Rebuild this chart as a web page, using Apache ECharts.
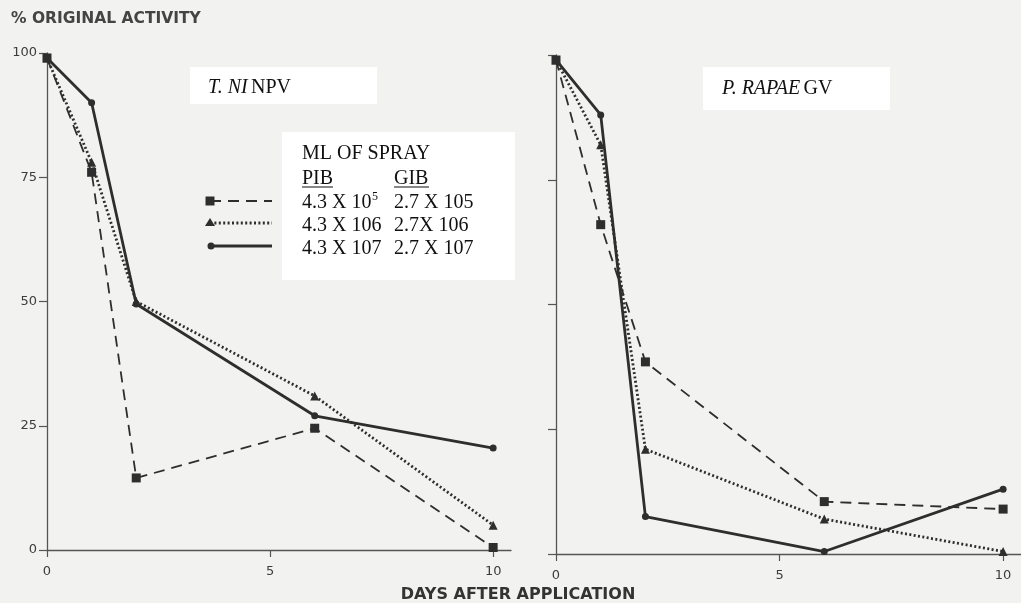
<!DOCTYPE html>
<html><head><meta charset="utf-8">
<script src="https://cdn.jsdelivr.net/npm/echarts@6/dist/echarts.min.js"></script>
<style>html,body{margin:0;padding:0;background:#f2f2f0}#c{width:1021px;height:603px}</style>
</head><body><div id="c"></div>
<script>
// ---- data ----
const days = [0, 1, 2, 6, 10];
const xTicks = [0, 5, 10];
const yTicks = [0, 25, 50, 75, 100];
const seriesNames = ['4.3 X 10^5 / 2.7 X 105', '4.3 X 106 / 2.7X 106', '4.3 X 107 / 2.7 X 107'];
// T. NI NPV panel
const tniLow  = [99, 76, 14.5, 24.5, 0.5];
const tniMid  = [99, 78, 50, 31, 5];
const tniHigh = [99, 90, 49.5, 27, 20.5];
// P. RAPAE GV panel
const praLow  = [99, 66, 38.5, 10.5, 9];
const praMid  = [99, 82, 21, 7, 0.5];
const praHigh = [99, 88, 7.5, 0.5, 13];

const pairs = v => days.map((d, i) => [d, v[i]]);
const INK = '#2e2e2e';
const styles = [
  {symbol: 'rect', symbolSize: 9, lineStyle: {width: 1.8, type: [11, 7]}},
  {symbol: 'triangle', symbolSize: 9, lineStyle: {width: 2.8, type: [2, 2.4]}},
  {symbol: 'circle', symbolSize: 7, lineStyle: {width: 2.8, type: 'solid'}}
];
function mk(name, vals, idx, k) {
  const s = styles[k];
  return {
    name: name, type: 'line', xAxisIndex: idx, yAxisIndex: idx,
    data: pairs(vals), symbol: s.symbol, symbolSize: s.symbolSize, showSymbol: true,
    itemStyle: {color: INK, borderWidth: 0},
    lineStyle: Object.assign({color: INK}, s.lineStyle),
    animation: false, z: 3
  };
}
const axisFont = {color: '#3c3c3c', fontFamily: 'DejaVu Sans', fontSize: 13};
function xAx(gi) {
  return {
    type: 'value', gridIndex: gi, min: 0, max: 10.4, interval: 5,
    axisLine: {lineStyle: {color: '#555', width: 1.3}},
    axisTick: {length: 7, customValues: xTicks, lineStyle: {color: '#555', width: 1.2}},
    axisLabel: Object.assign({customValues: xTicks, margin: 15}, axisFont),
    splitLine: {show: false}
  };
}
function yAx(gi, showLabels) {
  return {
    type: 'value', gridIndex: gi, min: 0, max: 100, interval: 25,
    axisLine: {show: true, lineStyle: {color: '#555', width: 1.3}},
    axisTick: {show: true, length: 8, customValues: yTicks, lineStyle: {color: '#555', width: 1.2}},
    axisLabel: Object.assign({show: showLabels, customValues: yTicks, margin: 10}, axisFont),
    splitLine: {show: false}
  };
}
const serif = 'Liberation Serif';
const txt = (x, y, text, extra) => ({
  type: 'text', x: x, y: y, z: 20,
  style: Object.assign({text: text, font: '20px "' + serif + '"', fill: '#111', textVerticalAlign: 'middle'}, extra || {})
});
const option = {
  backgroundColor: '#f2f2f0',
  animation: false,
  grid: [
    {left: 47, top: 53, width: 464, bottom: 53},
    {left: 556, top: 55, width: 465, bottom: 49}
  ],
  xAxis: [xAx(0), xAx(1)],
  yAxis: [yAx(0, true), yAx(1, false)],
  series: [
    mk(seriesNames[0], tniLow, 0, 0), mk(seriesNames[1], tniMid, 0, 1), mk(seriesNames[2], tniHigh, 0, 2),
    mk(seriesNames[0], praLow, 1, 0), mk(seriesNames[1], praMid, 1, 1), mk(seriesNames[2], praHigh, 1, 2)
  ],
  graphic: [
    {type: 'text', x: 11, y: 19, z: 20, style: {text: '% ORIGINAL ACTIVITY', font: 'bold 15.5px "DejaVu Sans"', fill: '#444', textVerticalAlign: 'middle'}},
    {type: 'text', x: 518, y: 595, z: 20, style: {text: 'DAYS AFTER APPLICATION', font: 'bold 16px "DejaVu Sans"', fill: '#333', textAlign: 'center', textVerticalAlign: 'middle'}},
    // label boxes
    {type: 'rect', z: 10, shape: {x: 190, y: 67, width: 187, height: 37}, style: {fill: '#ffffff'}},
    {type: 'rect', z: 10, shape: {x: 703, y: 67, width: 187, height: 43}, style: {fill: '#ffffff'}},
    {type: 'rect', z: 10, shape: {x: 282, y: 132, width: 233, height: 148}, style: {fill: '#ffffff'}},
    {type: 'text', x: 208, y: 88, z: 20, style: {
      text: '{i|T. NI} {n|NPV}', textVerticalAlign: 'middle',
      rich: {i: {font: 'italic 20px "' + serif + '"', fill: '#111'}, n: {font: '20px "' + serif + '"', fill: '#111'}}
    }},
    {type: 'text', x: 722, y: 89, z: 20, style: {
      text: '{i|P. RAPAE} {n|GV}', textVerticalAlign: 'middle',
      rich: {i: {font: 'italic 20px "' + serif + '"', fill: '#111'}, n: {font: '20px "' + serif + '"', fill: '#111'}}
    }},
    txt(302, 154, 'ML OF SPRAY'),
    txt(302, 179, 'PIB'),
    txt(394, 179, 'GIB'),
    {type: 'line', z: 20, shape: {x1: 302, y1: 187, x2: 333, y2: 187}, style: {stroke: '#111', lineWidth: 1}},
    {type: 'line', z: 20, shape: {x1: 394, y1: 187, x2: 429, y2: 187}, style: {stroke: '#111', lineWidth: 1}},
    txt(302, 203, '4.3 X 10'),
    txt(372, 197, '5', {font: '12px "' + serif + '"'}),
    txt(394, 203, '2.7 X 105'),
    txt(302, 226, '4.3 X 106'),
    txt(394, 226, '2.7X 106'),
    txt(302, 249, '4.3 X 107'),
    txt(394, 249, '2.7 X 107'),
    // legend samples
    {type: 'line', z: 20, shape: {x1: 210, y1: 201, x2: 272, y2: 201}, style: {stroke: INK, lineWidth: 1.8, lineDash: [11, 7]}},
    {type: 'rect', z: 21, shape: {x: 205.5, y: 196.5, width: 9, height: 9}, style: {fill: INK}},
    {type: 'line', z: 20, shape: {x1: 210, y1: 223, x2: 272, y2: 223}, style: {stroke: INK, lineWidth: 2.8, lineDash: [2, 2.4]}},
    {type: 'polygon', z: 21, shape: {points: [[210, 218], [205, 226], [215, 226]]}, style: {fill: INK}},
    {type: 'line', z: 20, shape: {x1: 210, y1: 246, x2: 272, y2: 246}, style: {stroke: INK, lineWidth: 2.8}},
    {type: 'circle', z: 21, shape: {cx: 211, cy: 246, r: 3.5}, style: {fill: INK}}
  ]
};
const chart = echarts.init(document.getElementById('c'), null, {renderer: 'canvas'});
chart.setOption(option);
</script></body></html>
